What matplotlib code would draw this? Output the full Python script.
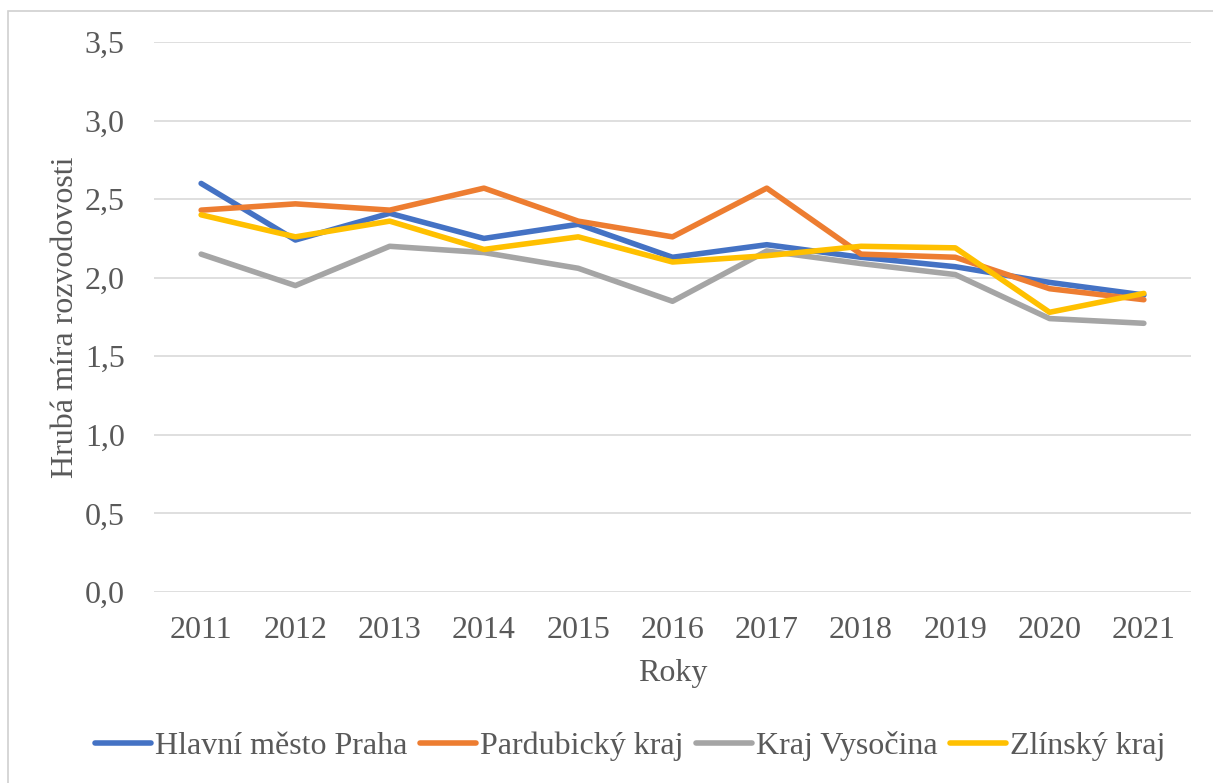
import matplotlib
matplotlib.use("Agg")
import matplotlib.pyplot as plt
from matplotlib.patches import Rectangle

years = ["2011", "2012", "2013", "2014", "2015", "2016", "2017", "2018", "2019", "2020", "2021"]
praha = [2.60, 2.24, 2.41, 2.25, 2.34, 2.13, 2.21, 2.13, 2.07, 1.97, 1.89]
pardubicky = [2.43, 2.47, 2.43, 2.57, 2.36, 2.26, 2.57, 2.15, 2.13, 1.93, 1.86]
vysocina = [2.15, 1.95, 2.20, 2.16, 2.06, 1.85, 2.17, 2.09, 2.02, 1.74, 1.71]
zlinsky = [2.40, 2.26, 2.36, 2.18, 2.26, 2.10, 2.14, 2.20, 2.19, 1.78, 1.90]
series_names = ["Hlavní město Praha", "Pardubický kraj", "Kraj Vysočina", "Zlínský kraj"]
colors = ["#4472C4", "#ED7D31", "#A5A5A5", "#FFC000"]
yticks = [0.0, 0.5, 1.0, 1.5, 2.0, 2.5, 3.0, 3.5]

plt.rcParams['font.family'] = ['Liberation Serif', 'DejaVu Serif']
W, H = 1213, 783
fig = plt.figure(figsize=(W / 100, H / 100), dpi=100)
fig.patches.append(Rectangle((8 / W, -0.1), 1.2, 1 - 11 / H + 0.1, transform=fig.transFigure,
                             fill=False, edgecolor="#D0D0D0", lw=1.2))
ax = fig.add_axes([154 / W, 1 - 592 / H, (1191 - 154) / W, (592 - 42) / H])

x = list(range(len(years)))
for vals, name, c in zip([praha, pardubicky, vysocina, zlinsky], series_names, colors):
    ax.plot(x, vals, color=c, lw=4.0, label=name, solid_capstyle='round', solid_joinstyle='round')

ax.set_xlim(-0.5, len(years) - 0.5)
ax.set_ylim(0, 3.5)
ax.set_yticks(yticks)
ax.set_yticklabels([f"{v:.1f}".replace(".", ",") for v in yticks])
ax.set_xticks(x)
ax.set_xticklabels(years)
ax.grid(axis='y', color="#D9D9D9", lw=1.2)
ax.set_axisbelow(True)
for s in ax.spines.values():
    s.set_visible(False)
ax.tick_params(axis='both', length=0, labelsize=23, labelcolor="#595959")
ax.tick_params(axis='y', pad=21)
ax.tick_params(axis='x', pad=17)
ax.set_xlabel("Roky", fontsize=23, color="#595959", labelpad=10)
ax.set_ylabel("Hrubá míra rozvodovosti", fontsize=23, color="#595959", labelpad=3.5)

fig.legend(loc='center', bbox_to_anchor=(630 / W, 1 - 746 / H), ncol=4, frameon=False,
           fontsize=23, labelcolor="#595959", handlelength=1.75, handletextpad=0.12,
           columnspacing=0.4)

fig.savefig("out.png", dpi=100)
